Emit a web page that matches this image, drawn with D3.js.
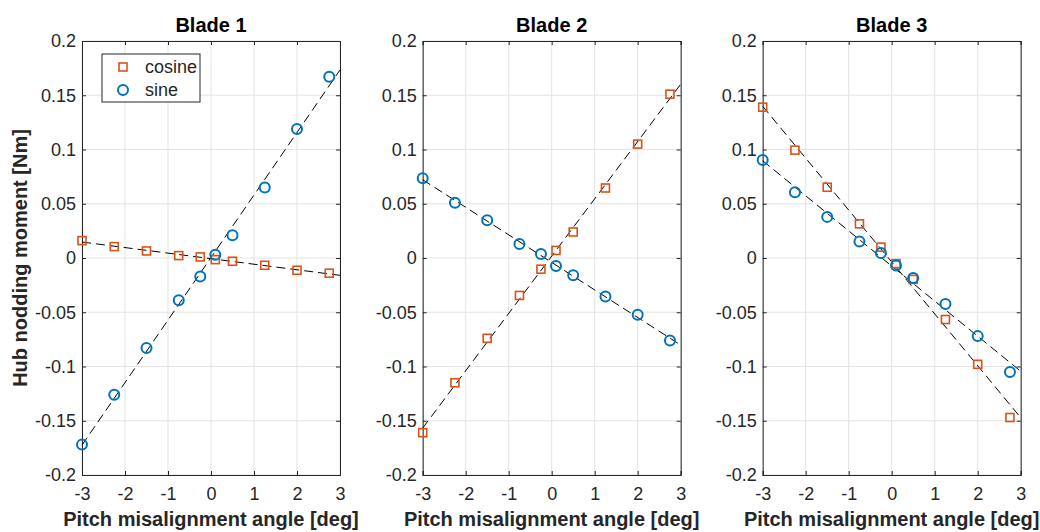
<!DOCTYPE html>
<html>
<head>
<meta charset="utf-8">
<script src="https://cdn.jsdelivr.net/npm/d3@7"></script>
<style>
  body { margin: 0; background: #fff; }
  svg { display: block; font-family: "Liberation Sans", Arial, sans-serif; }
</style>
</head>
<body>
<div id="container"></div>
<script>
// pitch angles used for every blade
var angles = [-3, -2.25, -1.5, -0.75, -0.25, 0.1, 0.5, 1.25, 2, 2.75];

// hub nodding moment [Nm]
var blade1Cos = [0.016, 0.0105, 0.0065, 0.0022, 0.001, -0.0015, -0.003, -0.0067, -0.0113, -0.014];
var blade1Sin = [-0.172, -0.126, -0.083, -0.039, -0.017, 0.003, 0.021, 0.065, 0.119, 0.167];
var blade2Cos = [-0.161, -0.115, -0.074, -0.0345, -0.0103, 0.007, 0.024, 0.0645, 0.105, 0.151];
var blade2Sin = [0.0736, 0.0509, 0.0348, 0.013, 0.0036, -0.0073, -0.016, -0.0355, -0.0524, -0.076];
var blade3Cos = [0.139, 0.0994, 0.0652, 0.0315, 0.01, -0.0052, -0.0197, -0.0567, -0.098, -0.147];
var blade3Sin = [0.0903, 0.0606, 0.0379, 0.0152, 0.0045, -0.007, -0.0185, -0.0424, -0.072, -0.105];

var titles = ["Blade 1", "Blade 2", "Blade 3"];
var xTicks = [-3, -2, -1, 0, 1, 2, 3];
var yTicks = [-0.2, -0.15, -0.1, -0.05, 0, 0.05, 0.1, 0.15, 0.2];
var legendLabels = ["cosine", "sine"];

var panels = [
  {title: titles[0], cos: blade1Cos, sin: blade1Sin},
  {title: titles[1], cos: blade2Cos, sin: blade2Sin},
  {title: titles[2], cos: blade3Cos, sin: blade3Sin}
];

var width = 1040, height = 532;
var panel_left = [82, 422.7, 762.7],
    panel_w = 258,
    top_y = 41, bottom_y = 475;

var orange = "#D95319", blue = "#0072BD", axis_col = "#262626";
var tick_font = "18px", label_font = "20px";

var svg = d3.select("div#container")
  .append("svg")
  .attr("width", width)
  .attr("height", height);

// plain least squares fit, like the original dashed lines
function fit(xs, ys) {
  var mx = d3.mean(xs), my = d3.mean(ys);
  var num = 0, den = 0;
  for (var i = 0; i < xs.length; i++) {
    num += (xs[i] - mx) * (ys[i] - my);
    den += (xs[i] - mx) * (xs[i] - mx);
  }
  var b = num / den;
  return function(x) { return my + b * (x - mx); };
}

var fmt = function(d) { return d === 0 ? "0" : String(d); };

panels.forEach(function(p, k) {
  var x = d3.scaleLinear().domain([-3, 3]).range([panel_left[k], panel_left[k] + panel_w]);
  var y = d3.scaleLinear().domain([-0.2, 0.2]).range([bottom_y, top_y]);
  var g = svg.append("g");

  // grid
  g.selectAll(".gx").data(xTicks).enter().append("line")
    .attr("x1", function(d) { return x(d); }).attr("x2", function(d) { return x(d); })
    .attr("y1", top_y).attr("y2", bottom_y)
    .style("stroke", "#e3e3e3").style("stroke-width", 1);
  g.selectAll(".gy").data(yTicks).enter().append("line")
    .attr("y1", function(d) { return y(d); }).attr("y2", function(d) { return y(d); })
    .attr("x1", x(-3)).attr("x2", x(3))
    .style("stroke", "#e3e3e3").style("stroke-width", 1);

  // axes, ticks inside on all sides
  var tl = 4;
  var xb = g.append("g").attr("transform", "translate(0," + bottom_y + ")")
    .call(d3.axisBottom(x).tickValues(xTicks).tickSize(-tl).tickPadding(12).tickFormat(fmt));
  g.append("g").attr("transform", "translate(0," + top_y + ")")
    .call(d3.axisTop(x).tickValues(xTicks).tickSize(-tl).tickFormat(""));
  var yl = g.append("g").attr("transform", "translate(" + x(-3) + ",0)")
    .call(d3.axisLeft(y).tickValues(yTicks).tickSize(-tl).tickPadding(6).tickFormat(fmt));
  g.append("g").attr("transform", "translate(" + x(3) + ",0)")
    .call(d3.axisRight(y).tickValues(yTicks).tickSize(-tl).tickFormat(""));

  [xb, yl].forEach(function(a) {
    a.attr("font-size", tick_font).attr("font-family", "'Liberation Sans', Arial, sans-serif");
  });
  g.selectAll(".domain").style("stroke", axis_col).style("stroke-width", 1);
  g.selectAll(".tick line").style("stroke", axis_col);
  g.selectAll(".tick text").style("fill", axis_col);

  // title
  g.append("text").attr("x", x(0)).attr("y", 32)
    .attr("text-anchor", "middle").style("font-weight", "bold").style("font-size", label_font)
    .text(p.title);

  // x label
  g.append("text").attr("x", x(0)).attr("y", 526)
    .attr("text-anchor", "middle").style("font-weight", "bold").style("font-size", label_font)
    .style("fill", axis_col)
    .text("Pitch misalignment angle [deg]");

  // dashed fit lines
  [p.cos, p.sin].forEach(function(vals) {
    var f = fit(angles, vals);
    g.append("line")
      .attr("x1", x(-3)).attr("y1", y(f(-3)))
      .attr("x2", x(3)).attr("y2", y(f(3)))
      .style("stroke", "#000").style("stroke-width", 1)
      .style("stroke-dasharray", "9,5");
  });

  var pts = angles.map(function(a, i) { return {a: a, c: p.cos[i], s: p.sin[i]}; });
  var sq = 8;
  g.selectAll(".sq").data(pts).enter().append("rect")
    .attr("x", function(d) { return x(d.a) - sq / 2; })
    .attr("y", function(d) { return y(d.c) - sq / 2; })
    .attr("width", sq).attr("height", sq)
    .style("fill", "none").style("stroke", orange).style("stroke-width", 1.6);
  g.selectAll(".ci").data(pts).enter().append("circle")
    .attr("cx", function(d) { return x(d.a); })
    .attr("cy", function(d) { return y(d.s); })
    .attr("r", 5)
    .style("fill", "none").style("stroke", blue).style("stroke-width", 2);

  if (k === 0) {
    // y label
    svg.append("text")
      .attr("transform", "translate(27," + y(0) + ") rotate(-90)")
      .attr("text-anchor", "middle").style("font-weight", "bold").style("font-size", label_font)
      .style("fill", axis_col)
      .text("Hub nodding moment [Nm]");

    // legend
    var lg = svg.append("g").attr("transform", "translate(102,54)");
    lg.append("rect").attr("width", 98).attr("height", 48)
      .style("fill", "#fff").style("stroke", axis_col).style("stroke-width", 1);
    lg.append("rect").attr("x", 21 - 4).attr("y", 13 - 4).attr("width", 8).attr("height", 8)
      .style("fill", "none").style("stroke", orange).style("stroke-width", 1.6);
    lg.append("circle").attr("cx", 21).attr("cy", 36).attr("r", 5)
      .style("fill", "none").style("stroke", blue).style("stroke-width", 2);
    lg.selectAll(".lt").data(legendLabels).enter().append("text")
      .attr("x", 43).attr("y", function(d, i) { return 13 + i * 23; })
      .attr("dy", "0.35em").style("font-size", tick_font).style("fill", axis_col)
      .text(function(d) { return d; });
  }
});
</script>
</body>
</html>
